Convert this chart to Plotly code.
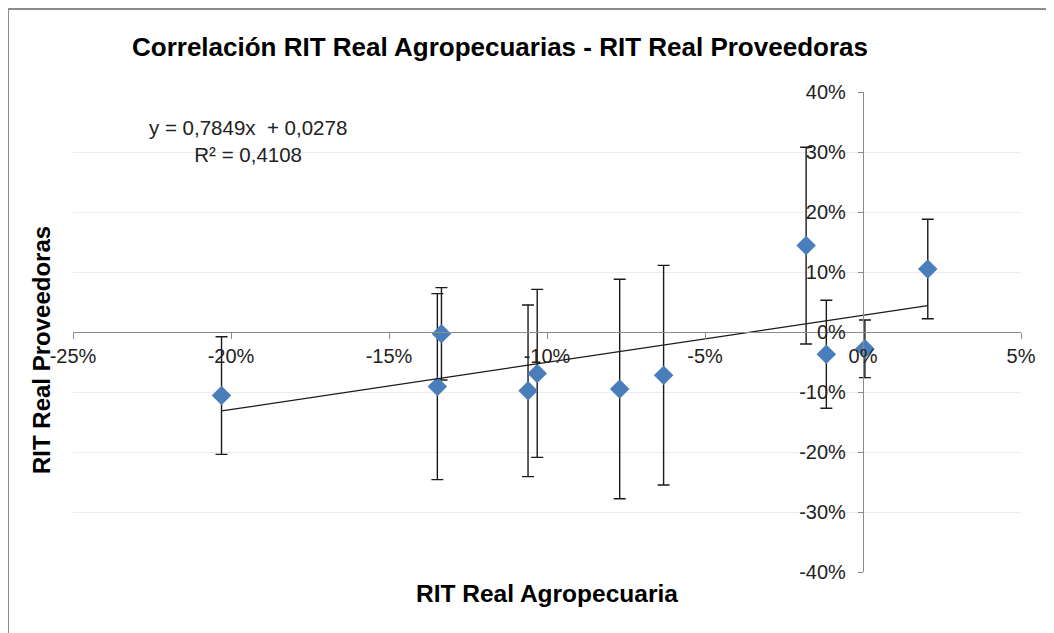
import plotly.graph_objects as go

# Data (fractions)
agro_x = [-0.203, -0.1347, -0.1334, -0.106, -0.1031, -0.077, -0.0631, -0.018, -0.0116, 0.0006, 0.0205]
prov_y = [-0.106, -0.091, -0.003, -0.098, -0.069, -0.095, -0.072, 0.144, -0.037, -0.028, 0.105]
err_y = [0.098, 0.155, 0.077, 0.143, 0.140, 0.183, 0.183, 0.164, 0.090, 0.048, 0.083]

slope = 0.7849
intercept = 0.0278
eq_text = "y = 0,7849x  + 0,0278<br>R² = 0,4108"

x_tickvals = [-0.25, -0.20, -0.15, -0.10, -0.05, 0.0, 0.05]
x_ticktext = ["-25%", "-20%", "-15%", "-10%", "-5%", "0%", "5%"]
y_tickvals = [-0.4, -0.3, -0.2, -0.1, 0.0, 0.1, 0.2, 0.3, 0.4]
y_ticktext = ["-40%", "-30%", "-20%", "-10%", "0%", "10%", "20%", "30%", "40%"]

title = "Correlación RIT Real Agropecuarias - RIT Real Proveedoras"
x_title = "RIT Real Agropecuaria"
y_title = "RIT Real Proveedoras"

FONT = "Liberation Sans, Arial, sans-serif"

fig = go.Figure()

fig.add_trace(go.Scatter(
    x=agro_x, y=prov_y, mode="markers",
    marker=dict(symbol="diamond", size=15, color="#4A7EBB"),
    error_y=dict(type="data", array=err_y, visible=True, color="#1a1a1a",
                 thickness=1.4, width=6),
    showlegend=False, hoverinfo="x+y",
))

x_min, x_max = min(agro_x), max(agro_x)
fig.add_trace(go.Scatter(
    x=[x_min, x_max], y=[slope * x_min + intercept, slope * x_max + intercept],
    mode="lines", line=dict(color="#1a1a1a", width=1.2),
    showlegend=False, hoverinfo="skip",
))

# page has an 8px body margin; work in page pixel coordinates of the reference
OFF = 8
W, H = 1054 - OFF, 633 - OFF
L, T = 73 - OFF, 92 - OFF
R = W - (1021 - OFF)
B = H - (572 - OFF)
pw, ph = W - L - R, H - T - B

def px_x(p):
    return (p - OFF - L) / pw

def px_y(p):
    return (H - B - (p - OFF)) / ph

fig.update_layout(
    width=W, height=H,
    margin=dict(l=L, r=R, t=T, b=B),
    paper_bgcolor="white", plot_bgcolor="white",
    font=dict(family=FONT, color="#222222"),
    showlegend=False,
    xaxis=dict(
        range=[-0.25, 0.05], tickvals=x_tickvals, ticktext=x_ticktext,
        anchor="free", position=0.5,
        showgrid=False, zeroline=False,
        showline=True, linecolor="#8c8c8c", linewidth=1.3,
        ticks="outside", ticklen=6, tickcolor="#8c8c8c", tickwidth=1.3,
        tickfont=dict(size=20, color="#222222", family=FONT),
    ),
    yaxis=dict(
        range=[-0.4, 0.4], tickvals=y_tickvals, ticktext=y_ticktext,
        anchor="free", position=(0 - (-0.25)) / 0.30,
        showgrid=True, gridcolor="#ececec", gridwidth=1,
        zeroline=False,
        showline=True, linecolor="#8c8c8c", linewidth=1.3,
        ticks="outside", ticklen=5, tickcolor="#8c8c8c", tickwidth=1.3,
        ticklabelstandoff=8,
        tickfont=dict(size=20, color="#222222", family=FONT),
    ),
    annotations=[
        dict(text="<b>" + title + "</b>", xref="paper", yref="paper",
             x=px_x(500), y=px_y(47), showarrow=False,
             font=dict(size=26, color="#000000", family=FONT),
             xanchor="center", yanchor="middle"),
        dict(text="<b>" + x_title + "</b>", xref="paper", yref="paper",
             x=px_x(547), y=px_y(593), showarrow=False,
             font=dict(size=24.5, color="#000000", family=FONT),
             xanchor="center", yanchor="middle"),
        dict(text="<b>" + y_title + "</b>", xref="paper", yref="paper",
             x=px_x(41), y=px_y(350), showarrow=False, textangle=-90,
             font=dict(size=24, color="#000000", family=FONT),
             xanchor="center", yanchor="middle"),
        dict(text=eq_text, xref="paper", yref="paper",
             x=px_x(248), y=px_y(141), showarrow=False, align="center",
             font=dict(size=20.5, color="#222222", family=FONT),
             xanchor="center", yanchor="middle"),
    ],
    shapes=[
        dict(type="rect", xref="paper", yref="paper",
             x0=px_x(8), y0=px_y(650), x1=px_x(1070), y1=px_y(9),
             line=dict(color="#8c8c8c", width=2), fillcolor="rgba(0,0,0,0)",
             layer="below"),
    ],
)

fig.write_html("out.html")
